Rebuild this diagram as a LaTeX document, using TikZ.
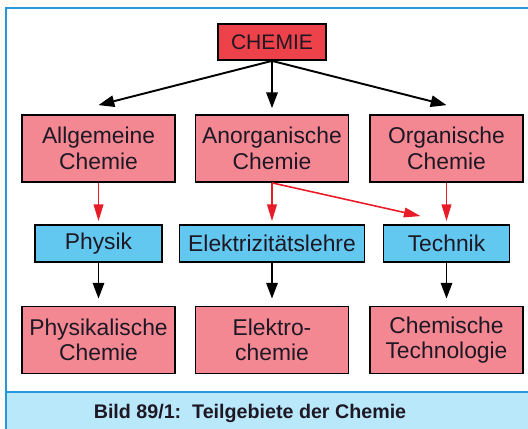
\documentclass[tikz,border=0pt]{standalone}
\usepackage{fontspec}
\setmainfont{Liberation Sans}
\usetikzlibrary{arrows.meta}
\definecolor{paper}{RGB}{253,251,245}
\definecolor{frameblue}{RGB}{40,150,220}
\definecolor{capblue}{RGB}{185,232,250}
\definecolor{boxpink}{RGB}{243,136,146}
\definecolor{boxred}{RGB}{237,66,74}
\definecolor{boxblue}{RGB}{98,200,240}
\definecolor{arrowred}{RGB}{232,28,40}
\definecolor{ink}{RGB}{30,24,36}

\begin{document}
\begin{tikzpicture}[x=0.02cm,y=-0.02cm]
      \tikzstyle{field}=[rectangle,draw,line width=1pt,fill=boxpink,text=ink,align=center,
        minimum width=3.06cm,minimum height=1.34cm,inner sep=0pt,font=\fontsize{13}{14.5}\selectfont]
      \tikzstyle{root}=[field,fill=boxred,minimum width=2.16cm,minimum height=0.72cm,font=\fontsize{12}{14}\selectfont]
      \tikzstyle{link}=[field,fill=boxblue,minimum height=0.74cm]
      \tikzstyle{blackarrow}=[-{Triangle[length=9pt,width=6.5pt]},line width=1.1pt,draw=black]
      \tikzstyle{redarrow}=[-{Triangle[length=9.5pt,width=5.5pt]},line width=0.9pt,draw=arrowred]
      % Paper, frame and caption band
      \clip (0,0) rectangle (528,429);
      \fill [paper] (0,0) rectangle (528,429);
      \filldraw [fill=white,draw=frameblue,line width=1.2pt] (6,8) rectangle (545,445);
      \filldraw [fill=capblue,draw=frameblue,line width=1.2pt] (6,392) rectangle (545,445);
      \node (caption) at (250,413) [text=ink,font=\fontsize{11.2}{13}\selectfont\bfseries] {Bild 89/1:\ \ Teilgebiete der Chemie};
      % Top node
      \node (chemie) at (272,42) [root] {CHEMIE};
      % Main fields
      \node (allg) at (98.5,148.5) [field] {Allgemeine\\Chemie};
      \node (anorg) at (272,148.5) [field] {Anorganische\\Chemie};
      \node (org) at (446.5,148.5) [field] {Organische\\Chemie};
      % Neighbouring sciences
      \node (physik) at (98.5,243.5) [link,minimum width=2.54cm] {Physik};
      \node (elektr) at (272,243.5) [link,minimum width=3.7cm] {Elektrizitätslehre};
      \node (technik) at (446.5,243.5) [link,minimum width=2.52cm] {Technik};
      % Resulting fields
      \node (physchem) at (98.5,340) [field] {Physikalische\\Chemie};
      \node (elchem) at (272,340) [field] {Elektro-\\chemie};
      \node (chemtech) at (446.5,340) [field] {Chemische\\Technologie};
      % Arrows from the top
      \draw [blackarrow] (chemie.south) -- ([yshift=0.18cm]allg.north);
      \draw [blackarrow] (chemie.south) -- ([yshift=0.12cm]anorg.north);
      \draw [blackarrow] (chemie.south) -- ([yshift=0.18cm]org.north);
      % Red arrows into the sciences
      \draw [redarrow] (allg.south) -- ([yshift=0.06cm]physik.north);
      \draw [redarrow] (anorg.south) -- ([yshift=0.06cm]elektr.north);
      \draw [redarrow] (anorg.south) -- ([xshift=0.76cm,yshift=0.16cm]technik.north west);
      \draw [redarrow] (org.south) -- ([yshift=0.06cm]technik.north);
      % Arrows down to the results
      \draw [blackarrow] (physik.south) -- ([yshift=0.14cm]physchem.north);
      \draw [blackarrow] (elektr.south) -- ([yshift=0.14cm]elchem.north);
      \draw [blackarrow] (technik.south) -- ([yshift=0.14cm]chemtech.north);
    \end{tikzpicture}
\end{document}
